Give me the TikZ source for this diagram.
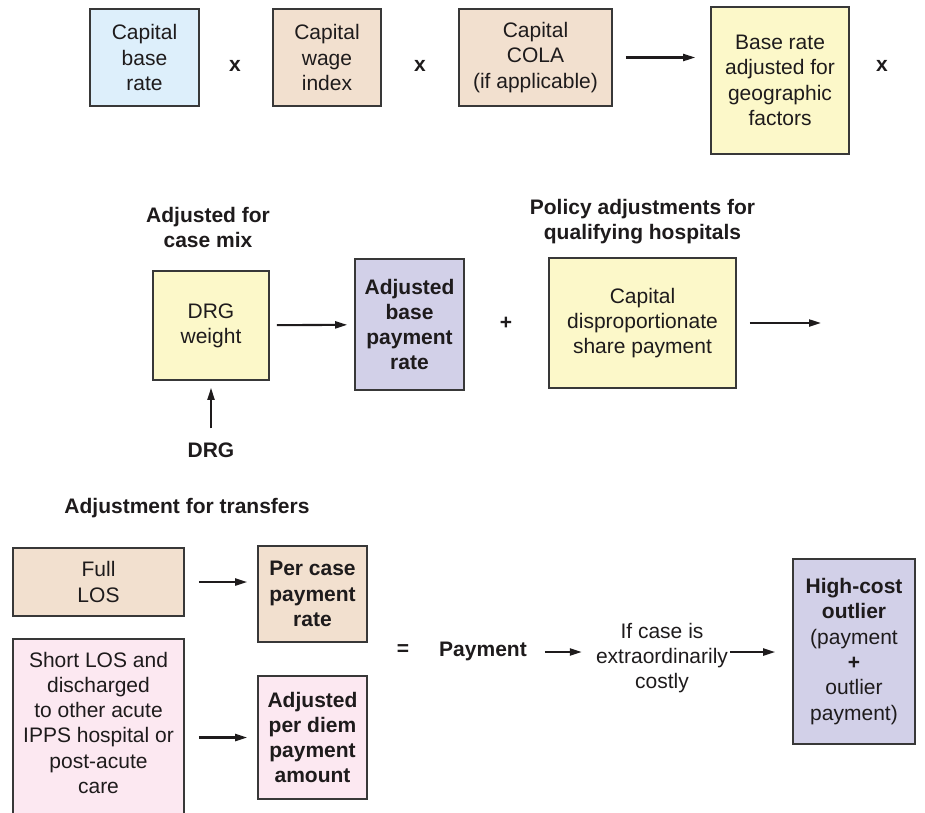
\documentclass[tikz,border=0pt]{standalone}
\usepackage{fontspec}
\setmainfont{Liberation Sans}
\usepackage{xcolor}
\usetikzlibrary{arrows.meta,positioning}

\definecolor{skyc}{HTML}{DDEFFB}
\definecolor{sandc}{HTML}{F2E0CF}
\definecolor{lemonc}{HTML}{FCF8C9}
\definecolor{lilacc}{HTML}{D2D0E8}
\definecolor{rosec}{HTML}{FCE8F1}
\definecolor{linec}{HTML}{383838}
\definecolor{textc}{HTML}{1E1B1C}
\newcommand{\fs}{\fontsize{21}{25.3}\selectfont}

\begin{document}
\begin{tikzpicture}[
  x=1pt, y=1pt,
  every node/.style={font=\fs, text=textc, align=center, inner sep=0pt},
  box/.style={draw=linec, line width=1.6pt},
  sky/.style={box, fill=skyc},
  sand/.style={box, fill=sandc},
  lemon/.style={box, fill=lemonc},
  lilac/.style={box, fill=lilacc},
  rose/.style={box, fill=rosec},
  hd/.style={font=\fs\bfseries},
  arr/.style={-{Triangle[length=12pt, width=7pt]}, line width=2.1pt, draw=textc}
]
  \useasboundingbox (0,0) rectangle (925,-812);
  \clip (0,0) rectangle (925,-812);

  % geographic factors
  \node[sky, minimum width=109pt, minimum height=97pt] (capbase) at (144.5,-57.5) {Capital\\base\\rate};
  \node[hd] (x1) at (235,-66) {x};
  \node[sand, minimum width=108pt, minimum height=97pt] (wage) at (327,-57.5) {Capital\\wage\\index};
  \node[hd] (x2) at (420,-66) {x};
  \node[sand, minimum width=153pt, minimum height=97pt] (cola) at (535.5,-57.5) {Capital\\COLA\\(if applicable)};
  \node[lemon, minimum width=138pt, minimum height=147pt] (geo) at (780,-80.5) {Base rate\\adjusted for\\geographic\\factors};
  \node[hd] (x3) at (882,-66) {x};
  \draw[arr, shorten <=13pt, shorten >=15pt] (cola.east) -- (cola.east -| geo.west);

  % case mix and policy adjustments
  \node[lemon, minimum width=116pt, minimum height=109pt] (drgw) at (211,-325.5) {DRG\\weight};
  \node[hd, above=22pt of drgw, xshift=-3pt] (caselab) {Adjusted for\\case mix};
  \node[hd] (drg) at (211,-450) {DRG};
  \node[lilac, hd, minimum width=109pt, minimum height=131pt] (adjbase) at (409.5,-324.5) {Adjusted\\base\\payment\\rate};
  \node[hd] (plus) at (506,-323) {+};
  \node[lemon, minimum width=187pt, minimum height=130pt] (dsh) at (642.5,-323) {Capital\\disproportionate\\share payment};
  \node[hd, above=13pt of dsh] (policylab) {Policy adjustments for\\qualifying hospitals};
  \coordinate (cont) at (821,-323);
  \draw[arr, shorten <=14pt, shorten >=7pt] (drg) -- (drgw);
  \draw[arr, shorten <=7pt, shorten >=7pt] (drgw) -- (adjbase);
  \draw[arr, shorten <=13pt] (dsh) -- (cont);

  % transfers and outliers
  \node[hd] (translab) at (187,-508) {Adjustment for transfers};
  \node[sand, minimum width=171pt, minimum height=68pt] (fulllos) at (98.5,-582) {Full\\LOS};
  \node[sand, hd, minimum width=109pt, minimum height=96pt] (percase) at (312.5,-594) {Per case\\payment\\rate};
  \node[rose, anchor=north, minimum width=171pt, inner ysep=13pt] (shortlos) at (98.5,-638)
    {Short LOS and\\discharged\\to other acute\\IPPS hospital or\\post-acute\\care\rule[-40pt]{0pt}{0pt}};
  \node[rose, hd, minimum width=109pt, minimum height=123pt] (perdiem) at (312.5,-737.5) {Adjusted\\per diem\\payment\\amount};
  \node[hd] (eq) at (403,-650) {=};
  \node[hd] (pay) at (483,-651) {Payment};
  \node (ifcase) at (662,-658) {If case is\\extraordinarily\\costly};
  \node[lilac, minimum width=122pt, minimum height=185pt] (outlier) at (854,-651.5)
    {\textbf{High-cost}\\\textbf{outlier}\\(payment\\\textbf{+}\\outlier\\payment)};
  \draw[arr, shorten <=14pt, shorten >=10pt] (fulllos.east) -- (fulllos.east -| percase.west);
  \draw[arr, shorten <=14pt, shorten >=10pt] (perdiem.west -| shortlos.east) -- (perdiem.west);
  \draw[arr, shorten <=18pt, shorten >=14pt] ([yshift=-1pt]pay.east) -- ([yshift=-1pt]pay.east -| ifcase.west);
  \draw[arr, shorten <=2pt, shorten >=17pt] ([yshift=6pt]ifcase.east) -- ([yshift=6pt]ifcase.east -| outlier.west);
\end{tikzpicture}
\end{document}
